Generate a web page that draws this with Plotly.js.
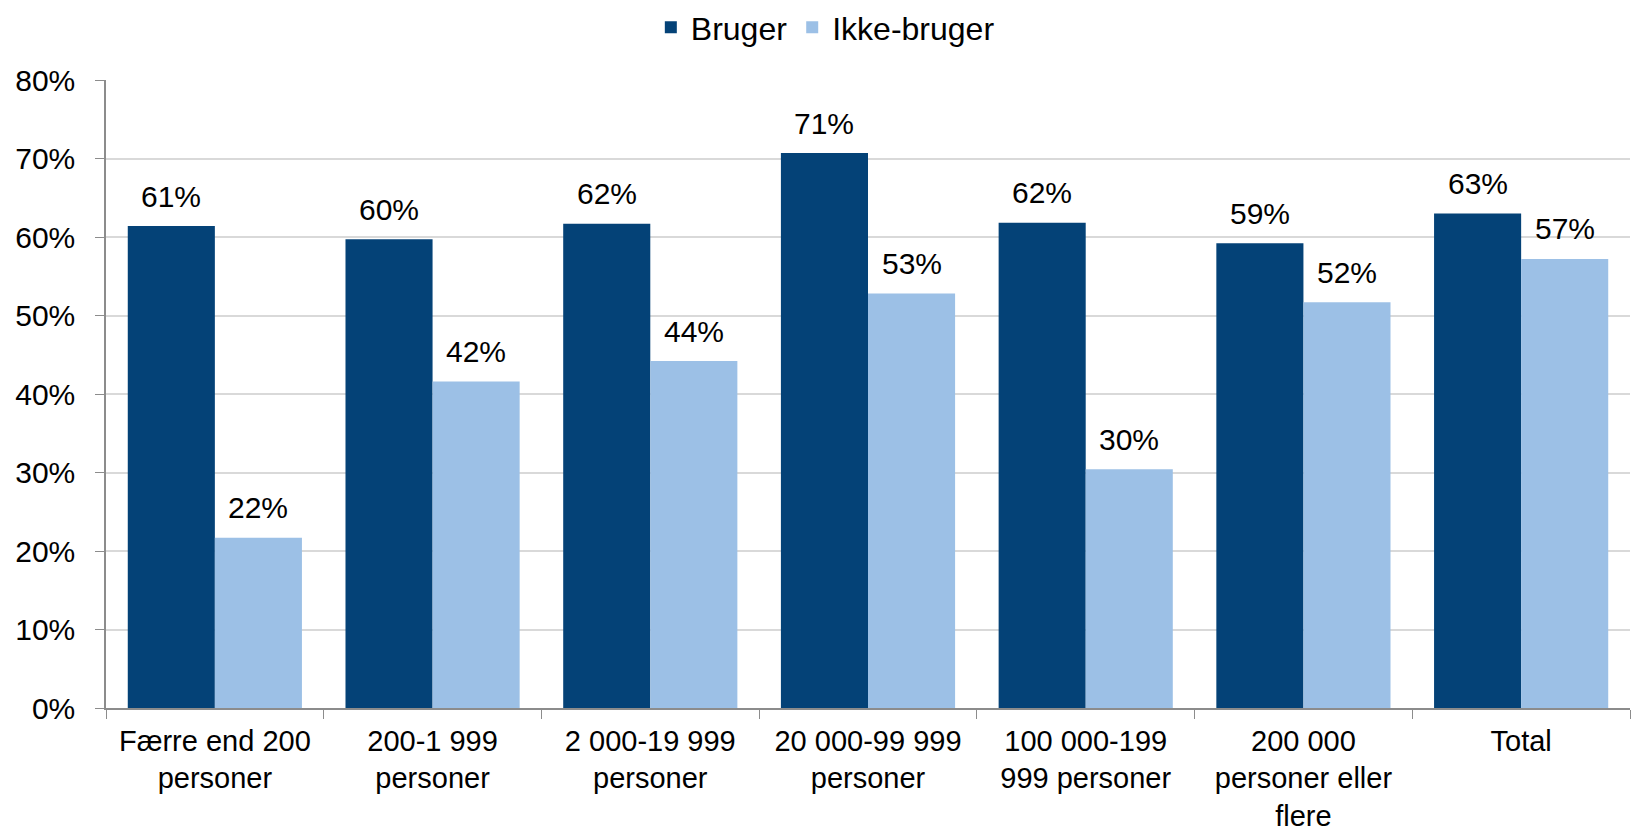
<!DOCTYPE html>
<html>
<head>
<meta charset="utf-8">
<script src="https://cdn.plot.ly/plotly-3.0.1.min.js"></script>
<style>html,body{margin:0;padding:0;background:#fff;}#chart{width:1632px;height:832px;}</style>
</head>
<body>
<div id="chart"></div>
<script>
const categories = [
  "Færre end 200<br>personer",
  "200-1 999<br>personer",
  "2 000-19 999<br>personer",
  "20 000-99 999<br>personer",
  "100 000-199<br>999 personer",
  "200 000<br>personer eller<br>flere",
  "Total"
];
const bruger = [61.4, 59.7, 61.7, 70.7, 61.8, 59.2, 63.0];
const ikkeBruger = [21.7, 41.6, 44.2, 52.8, 30.4, 51.7, 57.2];
const seriesNames = ["Bruger", "Ikke-bruger"];
const yTicks = [0, 10, 20, 30, 40, 50, 60, 70, 80];

const font = "Liberation Sans, Arial, sans-serif";
const W = 1632, H = 832;
const margin = {l: 106, r: 2, t: 80, b: 124};
const bargap = 0.2;
const halfBar = (W - margin.l - margin.r) / categories.length * (1 - bargap) / 4;

const traces = [
  {type: "bar", name: seriesNames[0], x: categories, y: bruger,
   marker: {color: "#044277"}, hoverinfo: "y"},
  {type: "bar", name: seriesNames[1], x: categories, y: ikkeBruger,
   marker: {color: "#9CC0E6"}, hoverinfo: "y"}
];

const annotations = [];
[bruger, ikkeBruger].forEach((series, si) => {
  series.forEach((v, i) => {
    annotations.push({
      x: categories[i], y: v, xref: "x", yref: "y",
      xshift: si === 0 ? -halfBar : halfBar, yshift: 30,
      yanchor: "middle", xanchor: "center",
      text: Math.round(v) + "%", showarrow: false,
      font: {size: 30, family: font, color: "#000"}
    });
  });
});

const layout = {
  width: W, height: H,
  margin: margin,
  paper_bgcolor: "#fff", plot_bgcolor: "#fff",
  font: {family: font, size: 30, color: "#000"},
  barmode: "group", bargap: bargap, bargroupgap: 0,
  showlegend: true,
  legend: {orientation: "h", x: 0.472, xanchor: "center", yref: "container", y: 1, yanchor: "top",
           font: {size: 32, family: font}, traceorder: "normal"},
  annotations: annotations,
  xaxis: {type: "category", showline: true, linecolor: "#8c8c8c", linewidth: 1.5,
          ticks: "outside", tickson: "boundaries", ticklen: 9, tickcolor: "#8c8c8c",
          tickfont: {size: 29, family: font}, showgrid: false, ticklabelstandoff: 6},
  yaxis: {range: [0, 80], tickvals: yTicks, ticktext: yTicks.map(v => v + "%"),
          showline: true, linecolor: "#8c8c8c", linewidth: 1.5,
          ticks: "outside", ticklen: 9, tickcolor: "#8c8c8c",
          gridcolor: "#d9d9d9", gridwidth: 1.5, zeroline: false,
          tickfont: {size: 30, family: font}, ticklabelstandoff: 14}
};
Plotly.newPlot("chart", traces, layout, {displayModeBar: false});
</script>
</body>
</html>
